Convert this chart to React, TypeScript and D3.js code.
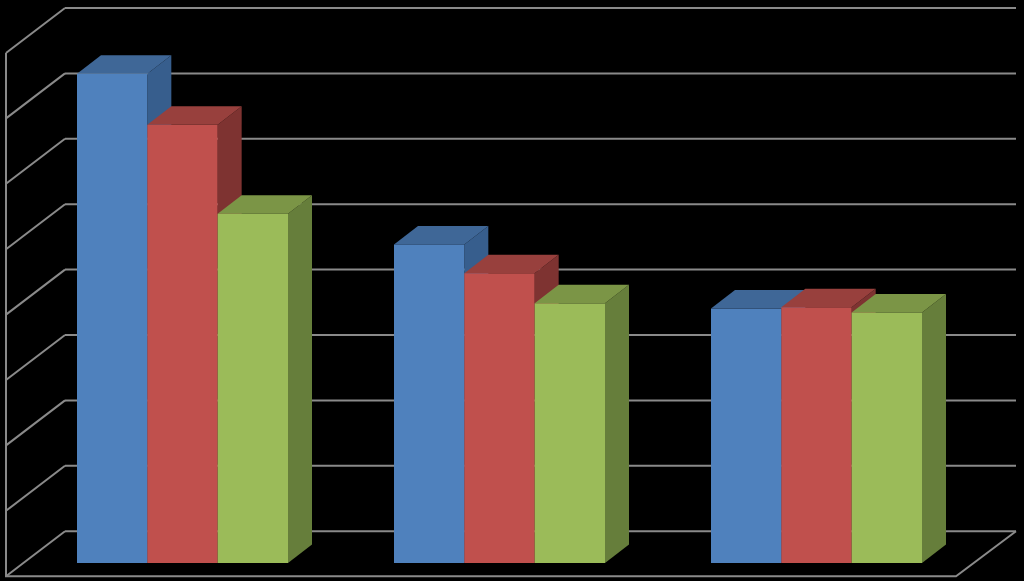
import React from "react";
import * as d3 from "d3";

const categories = ["A", "B", "C"];
const seriesNames = ["S1", "S2", "S3"];
const series1 = [7.48, 4.87, 3.89];
const series2 = [6.70, 4.43, 3.91];
const series3 = [5.34, 3.97, 3.83];
const gridTicks = [0, 1, 2, 3, 4, 5, 6, 7, 8];
const frontColors = ["#4F81BD", "#C0504D", "#9BBB59"];
const topColors = ["#3F6797", "#98403D", "#7B9546"];
const sideColors = ["#375E8D", "#7E3331", "#667E3B"];

const W = 1024;
const H = 581;
const gridColor = "#8A8A8A";

const y = d3.scaleLinear().domain([0, 8]).range([531.2, 8]);
const x0 = d3.scalePoint<string>().domain(categories).range([77, 711]);
const x1 = d3.scaleBand<string>().domain(seriesNames).range([0, 211]);

const floorDrop = 31.8; // front plane of the bars relative to the back wall
const depthX = 24;
const depthY = 18.5;
const wallDX = 59;
const wallDY = 45;
const wallRight = 1016;
const wallLeft = 65;

const poly = d3.line<[number, number]>();

export default function App() {
  const data = [series1, series2, series3];
  return (
    <svg
      width={W}
      height={H}
      viewBox={`0 0 ${W} ${H}`}
      style={{ position: "absolute", left: 0, top: 0, display: "block", background: "#000" }}
    >
      <rect x={0} y={0} width={W} height={H} fill="#000" />
      {gridTicks.map((t) => (
        <g key={t}>
          <line x1={wallLeft} x2={wallRight} y1={y(t)} y2={y(t)} stroke={gridColor} strokeWidth={2} />
          <line x1={wallLeft} x2={wallLeft - wallDX} y1={y(t)} y2={y(t) + wallDY} stroke={gridColor} strokeWidth={2} />
        </g>
      ))}
      <path
        d={
          poly([
            [6, y(8) + wallDY],
            [6, y(0) + wallDY],
            [wallRight - wallDX - 1, y(0) + wallDY],
            [wallRight, y(0)],
          ]) ?? ""
        }
        fill="none"
        stroke={gridColor}
        strokeWidth={2}
      />
      {categories.map((c, ci) => (
        <g key={c}>
          {seriesNames.map((s, si) => {
            const bx = (x0(c) ?? 0) + (x1(s) ?? 0);
            const bw = x1.bandwidth();
            const top = y(data[si][ci]) + floorDrop;
            const base = y(0) + floorDrop;
            const r = bx + bw;
            return (
              <g key={s}>
                <path
                  d={(poly([[r, top], [r + depthX, top - depthY], [r + depthX, base - depthY], [r, base]]) ?? "") + "Z"}
                  fill={sideColors[si]}
                />
                <path
                  d={(poly([[bx, top], [bx + depthX, top - depthY], [r + depthX, top - depthY], [r, top]]) ?? "") + "Z"}
                  fill={topColors[si]}
                />
                <rect x={bx} y={top} width={bw} height={base - top} fill={frontColors[si]} />
              </g>
            );
          })}
        </g>
      ))}
    </svg>
  );
}
